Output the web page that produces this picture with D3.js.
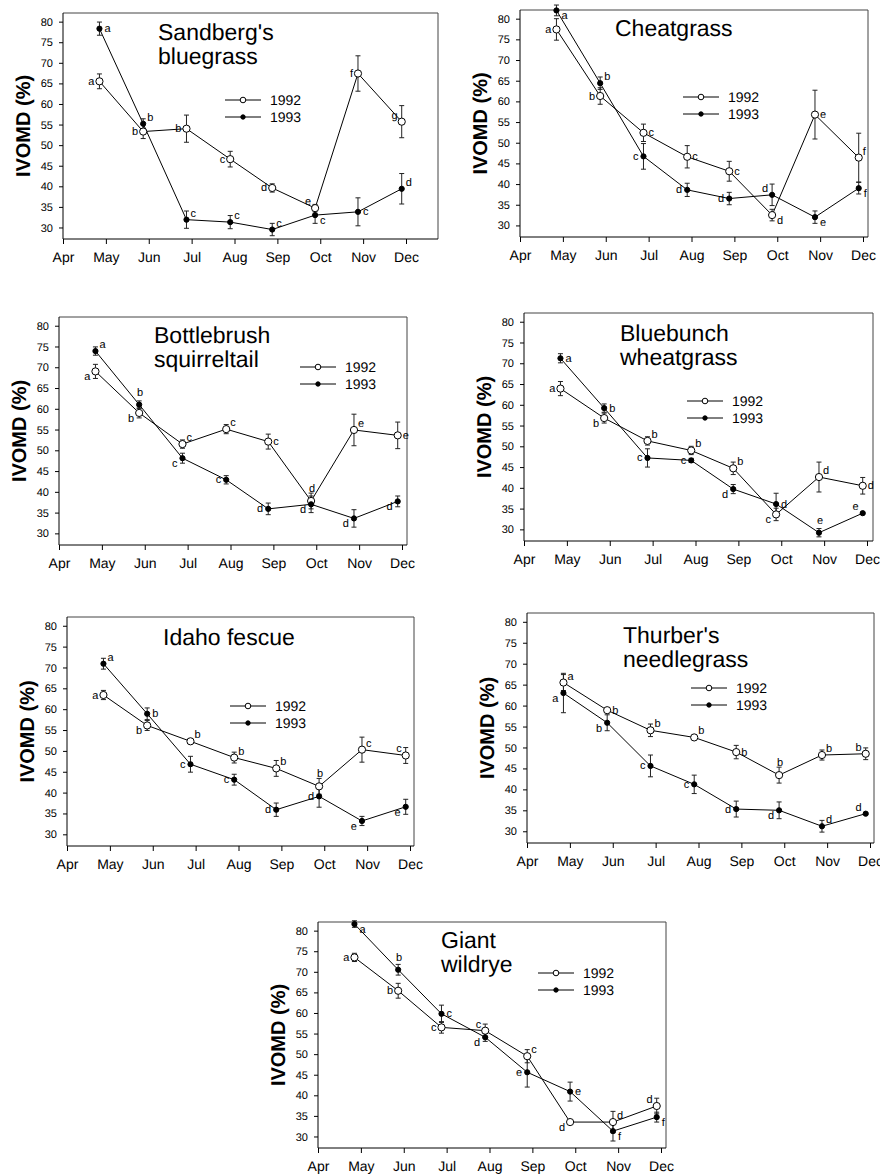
<!DOCTYPE html>
<html><head><meta charset="utf-8">
<script src="https://cdn.jsdelivr.net/npm/d3@7"></script>
<style>body{margin:0;background:#fff} svg text{fill:#000;-webkit-font-smoothing:antialiased;text-rendering:geometricPrecision}</style>
</head><body><svg id="c" width="880" height="1176"></svg>
<script>
// ---------- DATA ----------
const monthLabels = ["Apr","May","Jun","Jul","Aug","Sep","Oct","Nov","Dec"];
const sampleMonth = [0.85, 1.87, 2.88, 3.90, 4.88, 5.88, 6.88, 7.90]; // sampling dates (months after 1 Apr)
const yTicks = [30,35,40,45,50,55,60,65,70,75,80];
const years = ["1992","1993"];
const titles = [["Sandberg's","bluegrass"],["Cheatgrass"],["Bottlebrush","squirreltail"],["Bluebunch","wheatgrass"],["Idaho fescue"],["Thurber's","needlegrass"],["Giant","wildrye"]];

// Sandberg's bluegrass
const sb92 = [65.5,53.3,54.0,46.6,39.6,34.7,67.4,55.7];
const sb92se = [1.8,1.7,3.3,1.9,1.0,0.9,4.3,3.9];
const sb92sig = ["a","b","b","c","d","e","f","g"];
const sb93 = [78.3,55.2,31.9,31.3,29.5,33.0,33.8,39.4];
const sb93se = [1.6,1.2,2.1,1.6,1.5,2.0,3.4,3.7];
const sb93sig = ["a","b","c","c","c","c","c","d"];
// Cheatgrass
const cg92 = [77.4,61.3,52.4,46.6,43.1,32.5,56.8,46.4];
const cg92se = [2.6,2.0,2.1,2.7,2.4,1.4,5.9,5.9];
const cg92sig = ["a","b","c","c","c","d","e","f"];
const cg93 = [82.0,64.4,46.7,38.6,36.5,37.4,32.0,39.0];
const cg93se = [1.3,1.5,3.1,1.6,1.5,2.6,1.5,1.4];
const cg93sig = ["a","b","c","d","d","d","e","f"];
// Bottlebrush squirreltail
const bs92 = [69.0,59.0,51.5,55.1,52.1,37.8,54.9,53.6];
const bs92se = [1.7,1.2,1.0,1.1,1.8,1.9,3.8,3.2];
const bs92sig = ["a","b","c","c","c","d","e","e"];
const bs93 = [73.9,61.0,48.1,42.9,35.9,37.0,33.6,37.7];
const bs93se = [1.0,0.9,1.2,1.0,1.4,2.0,2.1,1.3];
const bs93sig = ["a","b","c","c","d","d","d","d"];
// Bluebunch wheatgrass
const bw92 = [63.9,56.8,51.3,49.0,44.7,33.6,42.6,40.5];
const bw92se = [1.7,1.2,1.0,1.0,1.5,1.5,3.6,2.0];
const bw92sig = ["a","b","b","b","b","c","d","d"];
const bw93 = [71.2,59.2,47.2,46.6,39.7,36.1,29.2,33.9];
const bw93se = [1.1,1.0,2.2,0.5,1.1,2.6,1.0,0.2];
const bw93sig = ["a","b","c","c","d","d","e","e"];
// Idaho fescue
const if92 = [63.4,56.1,52.3,48.4,45.8,41.5,50.3,48.9];
const if92se = [1.1,1.2,0.6,1.3,1.9,1.9,3.0,1.9];
const if92sig = ["a","b","b","b","b","b","c","c"];
const if93 = [70.9,58.9,46.8,43.1,35.9,39.1,33.2,36.6];
const if93se = [1.3,1.4,1.9,1.3,1.6,2.6,1.1,1.8];
const if93sig = ["a","b","c","c","d","d","e","e"];
// Thurber's needlegrass
const tn92 = [65.5,58.9,54.1,52.4,48.9,43.4,48.2,48.5];
const tn92se = [1.9,0.6,1.5,0.4,1.6,1.9,1.2,1.4];
const tn92sig = ["a","b","b","b","b","b","b","b"];
const tn93 = [63.0,55.9,45.6,41.2,35.3,35.0,31.2,34.2];
const tn93se = [4.7,1.9,2.6,2.2,1.9,2.0,1.4,0.2];
const tn93sig = ["a","b","c","c","d","d","d","d"];
// Giant wildrye
const gw92 = [73.5,65.4,56.5,55.7,49.5,33.5,33.5,37.4];
const gw92se = [1.0,1.8,1.4,1.6,1.6,0.25,2.6,1.9];
const gw92sig = ["a","b","c","c","c","d","d","d"];
const gw93 = [81.6,70.5,59.8,54.1,45.6,40.9,31.3,34.7];
const gw93se = [0.8,1.3,2.1,1.0,3.6,2.3,2.4,1.2];
const gw93sig = ["a","b","c","d","e","e","f","f"];

const series = [
  [[sb92,sb92se,sb92sig],[sb93,sb93se,sb93sig]],
  [[cg92,cg92se,cg92sig],[cg93,cg93se,cg93sig]],
  [[bs92,bs92se,bs92sig],[bs93,bs93se,bs93sig]],
  [[bw92,bw92se,bw92sig],[bw93,bw93se,bw93sig]],
  [[if92,if92se,if92sig],[if93,if93se,if93sig]],
  [[tn92,tn92se,tn92sig],[tn93,tn93se,tn93sig]],
  [[gw92,gw92se,gw92sig],[gw93,gw93se,gw93sig]]
];

// ---------- LAYOUT (positions & label placement) ----------
const panels = [
  {left:63, top:13, right:438, bottom:239, tx:158, ty:40, lx:225, ly:100,
   p92:["l","l","l","l","l","tl","l","tl"], p93:["r","tr","tr","tr","tr","br","r","tr"]},
  {left:520, top:10, right:868, bottom:237, tx:615, ty:36, lx:683, ly:97,
   p92:["l","l","r","r","r","br","r","tr"], p93:["br","tr","l","l","l","tl","br","br"]},
  {left:59, top:317, right:407, bottom:545, tx:154, ty:343, lx:300, ly:367,
   p92:["bl","bl","tr","tr","r","t","tr","r"], p93:["tr","t","bl","l","l","bl","bl","bl"]},
  {left:524, top:313, right:873, bottom:541, tx:620, ty:341, lx:687, ly:401,
   p92:["l","bl","tr","tr","tr","bl","tr","r"], p93:["r","r","l","l","bl","r","t","tl"]},
  {left:67, top:617, right:414, bottom:846, tx:163, ty:645, lx:230, ly:706,
   p92:["l","bl","tr","tr","tr","t","tr","tl"], p93:["tr","r","l","l","l","l","bl","bl"]},
  {left:527, top:613, right:874, bottom:843, tx:623, ty:643, lx:691, ly:688,
   p92:["tr","r","tr","tr","r","t","tr","tl"], p93:["bl","bl","l","l","l","bl","tr","tl"]},
  {left:318, top:922, right:666, bottom:1148, tx:441, ty:948, lx:538, ly:973,
   p92:["l","l","l","tl","tr","bl","tr","tl"], p93:["br","t","r","bl","l","r","br","br"]}
];

const FONT = "'Liberation Sans', Arial, Helvetica, sans-serif";
const offs = {r:[5,3.5,"start"], l:[-5,3.5,"end"], tr:[4,-3,"start"], tl:[-4,-3,"end"],
              br:[5,9,"start"], bl:[-5,9,"end"], t:[1,-9,"middle"]};

const svg = d3.select("#c");
svg.append("rect").attr("width",880).attr("height",1176).attr("fill","#fff");

panels.forEach((p,i)=>{
  const x = d3.scaleLinear().domain([0,8]).range([p.left, p.left+343]);
  const y = d3.scaleLinear().domain([27.2,82.1]).range([p.bottom, p.top]);
  const g = svg.append("g").attr("font-family", FONT);

  // frame top and right
  g.append("path").attr("d",`M${p.left},${p.top}H${p.right}V${p.bottom}`)
    .attr("fill","none").attr("stroke","#444").attr("stroke-width",1);

  // x axis
  const ax = g.append("g").attr("transform",`translate(0,${p.bottom})`)
    .call(d3.axisBottom(x).tickValues(d3.range(9)).tickFormat(k=>monthLabels[k])
      .tickSize(5).tickSizeOuter(0).tickPadding(8));
  ax.select(".domain").remove();
  ax.attr("font-family",FONT).attr("font-size",14);
  ax.selectAll("text").attr("fill","#000");
  g.append("line").attr("x1",p.left).attr("x2",p.right).attr("y1",p.bottom).attr("y2",p.bottom).attr("stroke","#000");

  // y axis
  const ay = g.append("g").attr("transform",`translate(${p.left},0)`)
    .call(d3.axisLeft(y).tickValues(yTicks).tickSize(4).tickSizeOuter(0).tickPadding(6));
  ay.select(".domain").remove();
  ay.attr("font-family",FONT).attr("font-size",11);
  ay.selectAll("text").attr("fill","#000");
  g.append("line").attr("x1",p.left).attr("x2",p.left).attr("y1",p.top).attr("y2",p.bottom).attr("stroke","#000");

  // y label
  g.append("text").attr("transform",`translate(${p.left-40},${(p.top+p.bottom)/2}) rotate(-90)`)
    .attr("text-anchor","middle").attr("dy","0.35em").attr("font-size",20).attr("font-weight","bold")
    .attr("fill","#000").text("IVOMD (%)");

  // title
  titles[i].forEach((t,k)=>{
    g.append("text").attr("x",p.tx).attr("y",p.ty+k*24).attr("font-size",23).attr("fill","#000").text(t);
  });

  // series
  series[i].forEach((s,si)=>{
    const [vals, se, sig] = s;
    const pos = si===0 ? p.p92 : p.p93;
    const line = d3.line().x((v,j)=>x(sampleMonth[j])).y(v=>y(v));
    g.append("path").attr("d",line(vals)).attr("fill","none").attr("stroke","#000").attr("stroke-width",1);
    // error bars
    vals.forEach((v,j)=>{
      const cx = x(sampleMonth[j]);
      const y1 = y(v+se[j]), y2 = y(v-se[j]);
      g.append("path").attr("d",`M${cx},${y1}V${y2}M${cx-2.5},${y1}H${cx+2.5}M${cx-2.5},${y2}H${cx+2.5}`)
        .attr("stroke","#222").attr("stroke-width",1).attr("fill","none");
    });
    // letters
    vals.forEach((v,j)=>{
      const o = offs[pos[j]];
      g.append("text").attr("x",x(sampleMonth[j])+o[0]).attr("y",y(v)+o[1])
        .attr("text-anchor",o[2]).attr("font-size",11).attr("fill","#000").text(sig[j]);
    });
  });
  // markers (on top)
  series[i].forEach((s,si)=>{
    const vals = s[0];
    g.selectAll(null).data(vals).enter().append("circle")
      .attr("cx",(v,j)=>x(sampleMonth[j])).attr("cy",v=>y(v))
      .attr("r", si===0 ? 3.6 : 2.6)
      .attr("fill", si===0 ? "#fff" : "#000").attr("stroke","#000").attr("stroke-width",1);
  });

  // legend
  years.forEach((yr,k)=>{
    const ly = p.ly + k*17;
    g.append("line").attr("x1",p.lx).attr("x2",p.lx+36).attr("y1",ly).attr("y2",ly).attr("stroke","#000");
    g.append("circle").attr("cx",p.lx+18).attr("cy",ly).attr("r",k===0?2.8:2.2)
      .attr("fill",k===0?"#fff":"#000").attr("stroke","#000");
    g.append("text").attr("x",p.lx+45).attr("y",ly+5).attr("font-size",14).attr("fill","#000").text(yr);
  });
});
</script></body></html>
